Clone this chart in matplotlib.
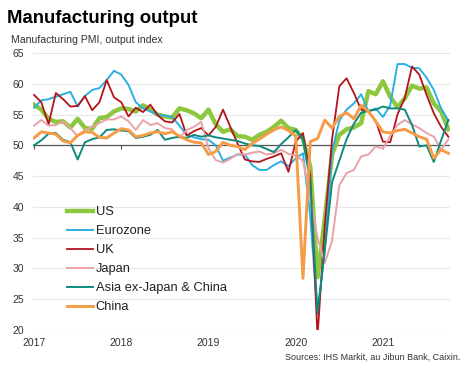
import numpy as np
import matplotlib
matplotlib.use("Agg")
import matplotlib.pyplot as plt

plt.rcParams['font.family'] = ['Liberation Sans', 'DejaVu Sans']

# monthly, Jan 2017 - Oct 2021
years = ["2017", "2018", "2019", "2020", "2021"]

us = [56.6, 55.8, 54.3, 53.8, 53.9, 52.9, 54.3, 52.8, 52.7, 54.4, 54.6, 55.5,
      56.0, 55.9, 55.5, 56.5, 55.8, 55.0, 54.7, 54.5, 56.0, 55.7, 55.2, 54.4,
      55.8, 53.4, 52.2, 52.6, 51.5, 51.4, 50.9, 51.7, 52.2, 53.0, 54.0, 52.8,
      52.5, 51.0, 46.5, 28.6, 38.0, 48.5, 51.7, 52.6, 52.9, 53.6, 58.8, 58.3,
      60.4, 57.9, 56.2, 57.6, 59.7, 59.2, 59.4, 56.8, 55.5, 52.6]
eurozone = [56.1, 57.3, 57.5, 57.9, 58.3, 58.7, 56.3, 58.0, 59.0, 59.3, 60.6, 62.1,
            61.5, 59.8, 57.0, 56.0, 55.5, 55.0, 54.8, 54.6, 53.2, 51.7, 51.3, 51.0,
            50.9, 50.0, 47.5, 48.0, 48.5, 48.5, 46.8, 46.0, 46.0, 46.8, 47.4, 46.6,
            47.9, 48.7, 38.5, 22.5, 33.0, 49.0, 54.0, 55.8, 56.8, 58.3, 55.5, 56.0,
            54.6, 56.5, 63.2, 63.2, 62.6, 62.5, 61.0, 59.0, 56.0, 54.0]
uk = [58.2, 57.0, 53.4, 58.5, 57.5, 56.3, 56.4, 58.0, 55.7, 57.0, 60.6, 57.8,
      57.0, 54.7, 56.1, 55.4, 56.6, 54.9, 53.9, 53.7, 55.1, 51.6, 52.3, 52.8,
      51.6, 53.0, 55.8, 53.0, 50.3, 47.7, 47.4, 47.3, 47.8, 48.2, 48.7, 45.7,
      50.6, 52.0, 45.0, 18.9, 37.0, 51.0, 59.6, 60.9, 58.5, 55.8, 55.5, 54.0,
      50.6, 50.5, 55.0, 57.7, 62.8, 61.5, 58.2, 55.2, 53.0, 51.4]
japan = [53.2, 54.1, 53.2, 53.3, 53.9, 52.8, 51.5, 52.5, 53.0, 53.6, 54.2, 54.2,
         54.7, 53.9, 52.5, 54.1, 53.3, 53.6, 52.8, 52.6, 51.2, 52.5, 53.0, 53.8,
         49.5, 47.6, 47.2, 47.8, 48.6, 48.5, 48.8, 49.0, 48.5, 48.7, 49.3, 48.6,
         48.3, 47.5, 41.5, 35.0, 30.9, 34.5, 43.5, 45.5, 46.0, 48.2, 48.5, 49.8,
         49.5, 51.5, 53.3, 54.1, 53.4, 52.8, 52.0, 51.4, 49.3, 51.0]
asia = [50.0, 50.8, 51.9, 52.0, 50.9, 50.5, 47.7, 50.5, 51.0, 51.3, 52.5, 52.6,
        52.4, 52.3, 51.2, 51.4, 51.7, 52.5, 50.9, 51.2, 51.4, 51.2, 51.7, 51.4,
        51.6, 51.3, 51.1, 50.9, 50.7, 50.3, 50.0, 49.9, 49.4, 48.9, 50.2, 51.3,
        52.5, 51.0, 44.0, 22.8, 33.0, 44.0, 47.5, 51.0, 53.5, 55.3, 55.6, 55.8,
        56.3, 56.0, 56.0, 55.8, 53.3, 49.8, 50.0, 47.3, 50.8, 54.1]
china = [51.2, 52.2, 52.0, 51.8, 50.7, 50.4, 51.6, 52.2, 52.1, 51.3, 51.2, 52.0,
         52.7, 52.5, 51.4, 51.6, 52.0, 52.2, 51.9, 52.2, 51.5, 50.9, 50.5, 50.4,
         48.5, 49.0, 50.5, 50.0, 49.8, 49.3, 50.3, 51.0, 51.8, 52.5, 53.0, 52.4,
         51.5, 28.4, 50.6, 51.1, 54.1, 52.8, 54.7, 55.3, 54.3, 56.5, 55.5, 53.9,
         52.2, 52.0, 52.4, 52.6, 52.0, 51.4, 51.0, 47.9, 49.3, 48.7]

series = [
    ("US", us, "#8dc63f", 3.2),
    ("Eurozone", eurozone, "#2bb0e3", 1.4),
    ("UK", uk, "#b3141c", 1.3),
    ("Japan", japan, "#e9a3a8", 1.4),
    ("Asia ex-Japan & China", asia, "#0f8a7e", 1.4),
    ("China", china, "#f69c46", 2.1),
]

fig = plt.figure(figsize=(4.72, 3.69), dpi=100)
ax = fig.add_axes([0.069, 0.1057, 0.884, 0.7507])

months = np.arange(len(us))
ax.set_ylim(20, 65)
ax.set_xlim(-0.2, 57.2)
ax.set_yticks(np.arange(20, 66, 5))
for v in np.arange(20, 66, 5):
    if v != 50:
        ax.axhline(v, color="#e8e8e8", lw=0.8, zorder=0)
ax.axhline(50, color="#555555", lw=0.9, zorder=1)

year_pos = np.arange(len(years)) * 12
ax.vlines(year_pos, 49.4, 50, color="#555555", lw=0.8, zorder=1)

for name, vals, col, lw in series:
    ax.plot(months, vals, color=col, lw=lw, label=name, zorder=2)

ax.set_xticks(year_pos)
ax.set_xticklabels(years)
ax.tick_params(length=0, labelsize=7.5, colors="#333333")
ax.tick_params(axis="x", pad=6)
ax.tick_params(axis="y", pad=6)
for s in ax.spines.values():
    s.set_visible(False)

leg = ax.legend(loc="upper left", bbox_to_anchor=(0.071, 0.466), frameon=False,
                fontsize=9.3, handlelength=2.0, handletextpad=0.2,
                labelspacing=0.54, borderaxespad=0)
for t in leg.get_texts():
    t.set_color("#222222")

fig.text(0.015, 0.9385, "Manufacturing output", fontsize=13.4, fontweight="bold",
         va="baseline", ha="left")
fig.text(0.023, 0.8827, "Manufacturing PMI, output index", fontsize=7.6,
         va="baseline", ha="left", color="#333333")
fig.text(0.975, 0.024, "Sources: IHS Markit, au Jibun Bank, Caixin.", fontsize=6.5,
         va="baseline", ha="right", color="#333333")

fig.savefig("out.png", dpi=100)
